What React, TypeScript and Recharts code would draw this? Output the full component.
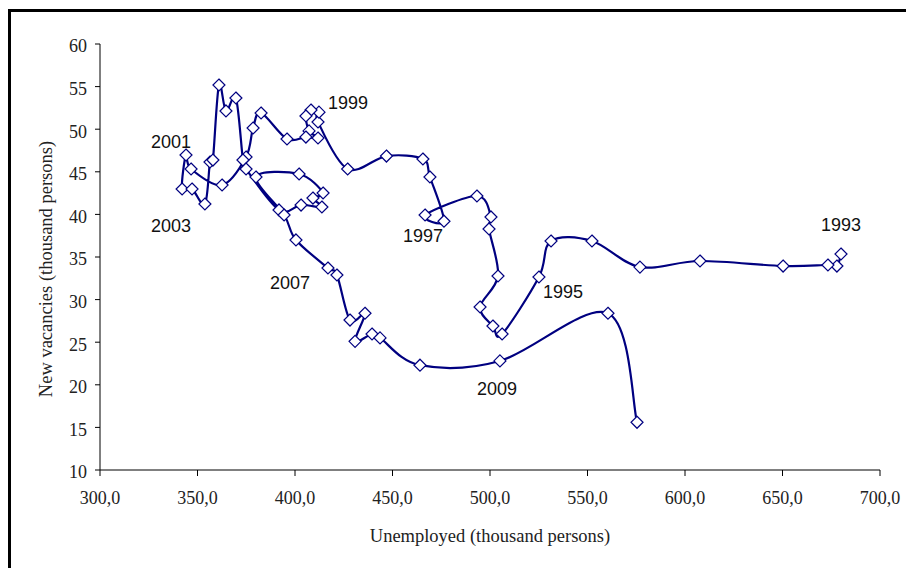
import React from 'react';
import { LineChart, Line, XAxis, YAxis, ReferenceDot, Label } from 'recharts';

// quarterly path, 1993 -> 2009
const unemployed = [
  680.0, 677.9, 673.3, 650.3, 607.7, 576.9, 552.3, 531.3,
  525.1, 506.2, 501.5, 494.9, 504.1, 499.5, 500.5, 493.3,
  466.7, 476.4, 469.2, 465.6, 446.9, 427.0,
  411.8, 412.3, 408.2, 405.6, 407.2, 411.8, 405.6, 395.9, 382.6, 378.5,
  374.9, 362.6, 346.7, 344.1, 342.1, 347.2, 353.8, 356.4, 357.9,
  361.0, 364.6, 369.7, 373.3, 374.9,
  391.8, 403.1, 413.8, 409.2, 414.4, 402.1, 380.0, 394.4,
  400.5, 416.9, 421.5, 428.2, 435.9, 430.8, 439.5, 443.6,
  464.1, 505.1, 560.5, 575.4,
];

const vacancies = [
  35.35, 33.94, 34.06, 33.94, 34.53, 33.82, 36.88, 36.88,
  32.65, 25.96, 26.9, 29.13, 32.77, 38.29, 39.7, 42.16,
  39.93, 39.2, 44.39, 46.5, 46.85, 45.33,
  50.85, 52.0, 52.25, 51.55, 49.8, 48.97, 49.08, 48.85, 51.9, 50.14,
  46.74, 43.45, 45.33, 46.97, 42.98, 42.98, 41.22, 46.15, 46.38,
  55.19, 52.14, 53.66, 46.38, 45.33,
  40.52, 41.1, 40.87, 41.92, 42.51, 44.74, 44.39, 39.93,
  37.0, 33.71, 32.89, 27.6, 28.4, 25.1, 25.96, 25.5,
  22.3, 22.8, 28.4, 15.6,
];

const yearNames = ['1993', '1995', '1997', '1999', '2001', '2003', '2007', '2009'];
const yearAtU = [680.0, 537.4, 465.6, 427.2, 336.4, 336.4, 397.4, 503.6];
const yearAtV = [38.76, 30.89, 37.46, 53.08, 48.6, 38.64, 31.95, 19.5];

const xTicks = [300, 350, 400, 450, 500, 550, 600, 650, 700];
const yTicks = [10, 15, 20, 25, 30, 35, 40, 45, 50, 55, 60];

const data = unemployed.map((u, i) => ({ u, v: vacancies[i] }));

const NAVY = '#000080';
const serif = '"Liberation Serif", "DejaVu Serif", serif';
const sans = '"Liberation Sans", Arial, sans-serif';

// Excel-like smoothed line (Catmull-Rom through every point)
const smoothCurve = (context: any) => {
  let pts: number[][] = [];
  return {
    areaStart() {},
    areaEnd() {},
    lineStart() {
      pts = [];
    },
    point(x: number, y: number) {
      pts.push([+x, +y]);
    },
    lineEnd() {
      const n = pts.length;
      if (!n) return;
      context.moveTo(pts[0][0], pts[0][1]);
      for (let i = 0; i < n - 1; i++) {
        const p0 = pts[i - 1] || pts[i];
        const p1 = pts[i];
        const p2 = pts[i + 1];
        const p3 = pts[i + 2] || p2;
        context.bezierCurveTo(
          p1[0] + (p2[0] - p0[0]) / 6,
          p1[1] + (p2[1] - p0[1]) / 6,
          p2[0] - (p3[0] - p1[0]) / 6,
          p2[1] - (p3[1] - p1[1]) / 6,
          p2[0],
          p2[1]
        );
      }
    },
  };
};

const Diamond = (props: any) => {
  const { cx, cy, index } = props;
  if (cx == null || cy == null) return null;
  const r = 6;
  return (
    <path
      key={`d-${index}`}
      d={`M${cx},${cy - r}L${cx + r},${cy}L${cx},${cy + r}L${cx - r},${cy}Z`}
      fill="#ffffff"
      stroke={NAVY}
      strokeWidth={1.2}
    />
  );
};

const YTitle = (props: any) => {
  const { viewBox } = props;
  const x = viewBox.x + 16;
  const y = viewBox.y + viewBox.height / 2 + 12;
  return (
    <text
      x={x}
      y={y}
      transform={`rotate(-90, ${x}, ${y})`}
      textAnchor="middle"
      dominantBaseline="central"
      fontFamily={serif}
      fontSize={18.5}
      fill="#222"
    >
      New vacancies (thousand persons)
    </text>
  );
};

const App: React.FC = () => {
  return (
    <div
      style={{
        position: 'absolute',
        left: 0,
        top: 0,
        width: 906,
        height: 568,
        overflow: 'hidden',
        background: '#fff',
      }}
    >
      <div
        style={{
          position: 'absolute',
          left: 8,
          top: 9,
          width: 920,
          height: 600,
          border: '3px solid #000',
        }}
      />
      <div style={{ position: 'absolute', left: 0, top: 0 }}>
        <LineChart
          width={906}
          height={568}
          data={data}
          margin={{ top: 44, right: 26, left: 30, bottom: 23 }}
        >
          <XAxis
            type="number"
            dataKey="u"
            domain={[300, 700]}
            ticks={xTicks}
            allowDataOverflow
            tickFormatter={(v: number) => v.toFixed(1).replace('.', ',')}
            stroke="#000"
            tickSize={6}
            tickMargin={15}
            height={75}
            tick={{ fill: '#222', fontFamily: serif, fontSize: 18 }}
          >
            <Label
              value="Unemployed (thousand persons)"
              position="insideBottom"
              offset={3}
              style={{ fontFamily: serif, fontSize: 18.5, fill: '#222' }}
            />
          </XAxis>
          <YAxis
            type="number"
            domain={[10, 60]}
            ticks={yTicks}
            allowDataOverflow
            stroke="#000"
            tickSize={5}
            tickMargin={8}
            width={70}
            tick={{ fill: '#222', fontFamily: serif, fontSize: 18, dy: 2 }}
            label={<YTitle />}
          />
          <Line
            dataKey="v"
            type={smoothCurve as any}
            stroke={NAVY}
            strokeWidth={2.2}
            dot={Diamond}
            activeDot={false}
            isAnimationActive={false}
          />
          {yearNames.map((name, i) => (
            <ReferenceDot
              key={name}
              x={yearAtU[i]}
              y={yearAtV[i]}
              r={0}
              fill="none"
              stroke="none"
              label={{
                value: name,
                position: 'center',
                fill: '#111',
                fontSize: 18,
                fontFamily: sans,
              }}
            />
          ))}
        </LineChart>
      </div>
    </div>
  );
};

export default App;
